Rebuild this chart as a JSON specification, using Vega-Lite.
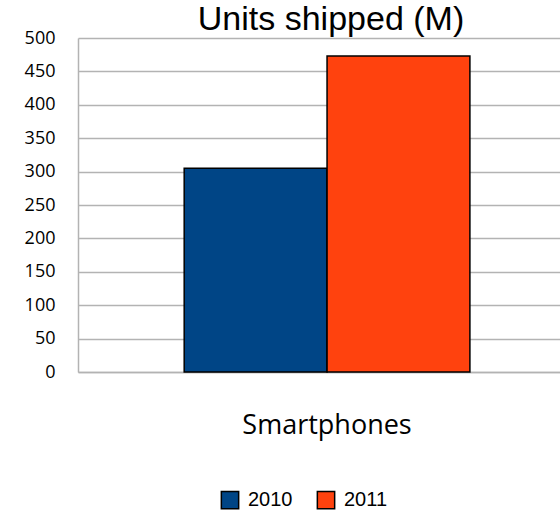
{
  "$schema": "https://vega.github.io/schema/vega-lite/v6.json",
  "width": 482,
  "height": 334,
  "autosize": {"type": "none"},
  "padding": {"left": 78, "top": 38, "right": 0, "bottom": 138},
  "background": "white",
  "title": {"text": "Units shipped (M)", "font": "Liberation Sans", "fontSize": 34, "fontWeight": "normal", "color": "black", "anchor": "middle", "dx": 12, "offset": -42, "baseline": "bottom"},
  "data": {"values": [
    {"category": "Smartphones", "year": "2010", "units": 305},
    {"category": "Smartphones", "year": "2011", "units": 473}
  ]},
  "mark": {"type": "bar", "stroke": "black", "strokeWidth": 1.5},
  "encoding": {
    "x": {"field": "category", "type": "nominal",
      "scale": {"paddingInner": 0, "paddingOuter": 0.3435, "align": 0.541},
      "axis": {"title": null, "labelAngle": 0, "labelFont": "Open Sans", "labelFontSize": 27, "labelColor": "black", "labelPadding": 61, "labelBaseline": "alphabetic", "ticks": false, "domainColor": "#b3b3b3", "domainWidth": 1.5}},
    "xOffset": {"field": "year", "type": "nominal", "scale": {"paddingInner": 0, "paddingOuter": 0}},
    "y": {"field": "units", "type": "quantitative", "scale": {"domain": [0, 500]},
      "axis": {"title": null, "values": [0, 50, 100, 150, 200, 250, 300, 350, 400, 450, 500], "labelFont": "Open Sans", "labelFontSize": 18, "labelColor": "black", "labelPadding": 23, "ticks": false, "domainColor": "#b3b3b3", "domainWidth": 1.5, "gridColor": "#b3b3b3", "gridWidth": 1.5}},
    "color": {"field": "year", "type": "nominal",
      "scale": {"domain": ["2010", "2011"], "range": ["#004586", "#ff420e"]},
      "legend": {"title": null, "orient": "none", "direction": "horizontal", "legendX": 142, "legendY": 452, "symbolType": "square", "symbolSize": 300, "symbolStrokeColor": "black", "symbolStrokeWidth": 1.5, "symbolOpacity": 1, "labelFont": "Liberation Sans", "labelFontSize": 20, "labelColor": "black", "labelOffset": 8, "columnPadding": 21, "padding": 0}}
  },
  "config": {"view": {"stroke": null}}
}
